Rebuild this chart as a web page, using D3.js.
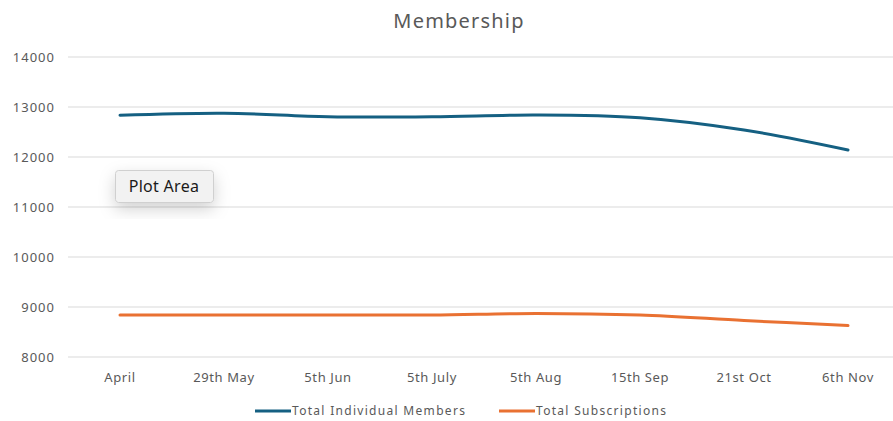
<!DOCTYPE html>
<html>
<head>
<meta charset="utf-8">
<script src="https://cdn.jsdelivr.net/npm/d3@7"></script>
<style>
  body { margin: 0; background: #fff; }
  svg { font-family: 'Noto Sans', 'Open Sans', sans-serif; }
</style>
</head>
<body>
<div id="chart"></div>
<script>
const categories = ['April', '29th May', '5th Jun', '5th July', '5th Aug', '15th Sep', '21st Oct', '6th Nov'];
const members = [12835, 12875, 12805, 12805, 12840, 12785, 12540, 12140];
const subscriptions = [8840, 8840, 8840, 8840, 8872, 8840, 8730, 8628];
const yTicks = [8000, 9000, 10000, 11000, 12000, 13000, 14000];

const width = 893;
const height = 421;

const svg = d3.select('#chart')
    .append('svg')
    .attr('width', width)
    .attr('height', height);

const x = d3.scaleBand()
    .domain(categories)
    .range([68, 900]);

const y = d3.scaleLinear()
    .domain([8000, 14000])
    .range([357, 57]);

// title
svg.append('text')
    .attr('x', 459)
    .attr('y', 28)
    .attr('text-anchor', 'middle')
    .attr('fill', '#595959')
    .style('font-size', '20px')
    .style('letter-spacing', '1.2px')
    .text('Membership');

// gridlines
svg.append('g')
    .selectAll('line')
    .data(yTicks)
    .enter()
    .append('line')
    .attr('x1', 68)
    .attr('x2', width)
    .attr('y1', (d) => y(d))
    .attr('y2', (d) => y(d))
    .attr('stroke', '#d9d9d9')
    .attr('stroke-width', 1);

// y labels
svg.append('g')
    .selectAll('text')
    .data(yTicks)
    .enter()
    .append('text')
    .attr('x', 55)
    .attr('y', (d) => y(d) + 5)
    .attr('text-anchor', 'end')
    .attr('fill', '#595959')
    .style('font-size', '13px')
    .style('letter-spacing', '1px')
    .text((d) => d);

// x labels
svg.append('g')
    .selectAll('text')
    .data(categories)
    .enter()
    .append('text')
    .attr('x', (d) => x(d) + x.bandwidth() / 2)
    .attr('y', 382)
    .attr('text-anchor', 'middle')
    .attr('fill', '#595959')
    .style('font-size', '13px')
    .style('letter-spacing', '0.6px')
    .text((d) => d);

const line = d3.line()
    .x((d, i) => x(categories[i]) + x.bandwidth() / 2)
    .y((d) => y(d))
    .curve(d3.curveCatmullRom.alpha(0.5));

const series = [
    { name: 'Total Individual Members', values: members, color: '#156082' },
    { name: 'Total Subscriptions', values: subscriptions, color: '#E97132' }
];

svg.append('g')
    .selectAll('path')
    .data(series)
    .enter()
    .append('path')
    .attr('d', (d) => line(d.values))
    .attr('fill', 'none')
    .attr('stroke', (d) => d.color)
    .attr('stroke-width', 3)
    .attr('stroke-linecap', 'round');

// legend
const legendX = [255, 499];
const legend = svg.append('g');
series.forEach((s, i) => {
    legend.append('line')
        .attr('x1', legendX[i])
        .attr('x2', legendX[i] + 36)
        .attr('y1', 411)
        .attr('y2', 411)
        .attr('stroke', s.color)
        .attr('stroke-width', 3);
    legend.append('text')
        .attr('x', legendX[i] + 37)
        .attr('y', 415)
        .attr('fill', '#595959')
        .style('font-size', '12px')
        .style('letter-spacing', '1.3px')
        .text(s.name);
});

// "Plot Area" tooltip
const defs = svg.append('defs');
const filter = defs.append('filter').attr('id', 'shadow')
    .attr('x', '-50%').attr('y', '-50%').attr('width', '200%').attr('height', '200%');
filter.append('feDropShadow')
    .attr('dx', 0).attr('dy', 6).attr('stdDeviation', 8)
    .attr('flood-color', '#000').attr('flood-opacity', 0.18);

const tip = svg.append('g');
tip.append('rect')
    .attr('x', 115.5)
    .attr('y', 170.5)
    .attr('width', 98)
    .attr('height', 32)
    .attr('rx', 3)
    .attr('fill', '#f2f2f2')
    .attr('stroke', '#d0d0d0')
    .attr('filter', 'url(#shadow)');
tip.append('text')
    .attr('x', 164)
    .attr('y', 192)
    .attr('text-anchor', 'middle')
    .attr('fill', '#1a1a1a')
    .style('font-size', '16px')
    .style('letter-spacing', '0.3px')
    .text('Plot Area');
</script>
</body>
</html>
